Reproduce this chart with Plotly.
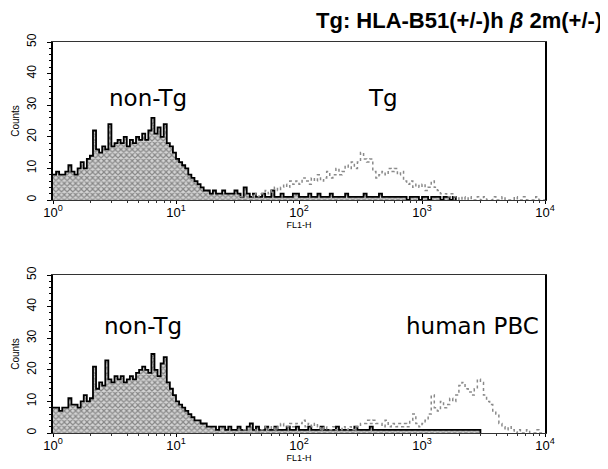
import plotly.graph_objects as go

# channel positions are given in log10(FL1-H), fixed step per series
step = 0.025

# non-Tg, top panel (starts at log10 = 0)
nontg_top = [8, 9, 8, 8, 9, 11, 9, 8, 10, 12, 10, 13, 14, 22, 16, 15, 17, 16, 24,
             17, 18, 19, 18, 20, 17, 19, 18, 20, 19, 21, 19, 22, 26, 21, 23, 20, 24,
             18, 17, 15, 13, 12, 11, 10, 8, 7, 6, 5, 4, 3, 3, 2,
             3, 2, 2, 3, 2, 2, 2, 3, 2, 1, 4, 2, 1, 2, 1, 1, 2, 1, 1, 3, 1, 1, 2, 1,
             1, 1, 2, 2, 1, 1, 1, 2, 1, 1, 2, 1, 1, 1, 2, 1, 1, 1, 1, 2, 1, 1, 1, 1,
             1, 2, 1, 1, 1, 1, 2, 1, 1, 1, 1, 1, 1, 1, 1, 0, 1, 1, 1, 0, 1, 1, 0, 1,
             1, 1, 0, 1, 1, 0, 1, 0]

# non-Tg, bottom panel (starts at log10 = 0)
nontg_bot = [8, 8, 7, 8, 8, 11, 9, 9, 8, 10, 12, 10, 11, 21, 14, 16, 15, 23,
             17, 16, 18, 17, 18, 16, 17, 18, 17, 19, 20, 21, 20, 19, 25, 20, 18, 22, 24,
             16, 14, 12, 10, 9, 8, 7, 6, 5, 4, 4, 3, 3, 2, 2,
             2, 1, 2, 2, 1, 2, 1, 1, 2, 1, 1, 2, 3, 1, 2, 1, 1, 2, 1, 1, 2, 1, 1, 1,
             2, 1, 1, 2, 1, 1, 1, 2, 1, 1, 1, 2, 1, 1, 1, 1, 2, 1, 1, 1, 1, 1, 2, 1,
             1, 1, 1, 2, 1, 1, 1, 1, 1, 1, 1, 1, 1, 1, 1, 1, 1, 1, 1, 1, 1, 1, 1, 1,
             1, 1, 1, 1, 1, 1, 1, 1, 1, 1, 1, 1, 1, 1, 1, 0]

# Tg (top) and human PBC (bottom), start at log10 = 1.5
tg_start = 1.5
tg_top = [0, 1, 0, 1, 1, 2, 1, 2, 2, 3, 2, 3, 4, 3, 4, 5, 4, 6, 5, 6,
          5, 7, 6, 5, 7, 6, 8, 6, 7, 9, 7, 8, 10, 8, 9, 11, 10, 12, 10, 12,
          15, 13, 12, 13, 9, 7, 8, 9, 8, 10, 9, 10, 8, 9, 6, 5, 6, 4, 5, 4,
          5, 3, 4, 6, 4, 3, 2, 2, 1, 2, 1, 1, 0, 1, 0, 1, 0, 0, 1, 0,
          1, 0, 0, 1, 0, 0, 1, 0, 0, 0, 1, 0, 0, 1, 0, 0, 0, 1, 0, 0, 0]
pbc_bot = [1, 0, 1, 0, 1, 1, 0, 1, 1, 2, 1, 2, 1, 2, 3, 2, 2, 3, 2, 3,
           3, 4, 2, 3, 2, 3, 2, 1, 2, 1, 1, 2, 1, 1, 2, 1, 2, 1, 2, 2,
           3, 3, 4, 3, 4, 3, 3, 2, 4, 2, 3, 2, 3, 2, 3, 2, 4, 6, 3, 2,
           3, 4, 6, 12, 8, 7, 10, 8, 9, 11, 10, 12, 15, 16, 14, 13, 12, 14, 17, 16,
           12, 10, 9, 7, 6, 3, 2, 1, 2, 1, 0, 1, 0, 0, 1, 0, 0, 1, 0, 0, 0]

xtick_vals = [1, 10, 100, 1000, 10000]
xtick_text = ["10<sup>0</sup>", "10<sup>1</sup>", "10<sup>2</sup>", "10<sup>3</sup>", "10<sup>4</sup>"]
ytick_vals = [0, 10, 20, 30, 40, 50]

# the page body has an 8px margin, so the figure is 8px smaller each way
W, H, OFF = 600, 461, 8


def px(x):
    return (x - OFF) / W


def py(y):
    return 1 - (y - OFF) / H


def steps(values, start):
    xs = [10 ** (start + i * step) for i in range(len(values))]
    return xs, values


fig = go.Figure()

for vals, start, xa, ya in [(nontg_top, 0, "x", "y"), (nontg_bot, 0, "x2", "y2")]:
    xs, ys = steps(vals, start)
    fig.add_trace(go.Scatter(
        x=xs, y=ys, xaxis=xa, yaxis=ya, mode="lines", line_shape="hv",
        line=dict(color="black", width=1.8), fill="tozeroy",
        fillcolor="rgba(0,0,0,0)",
        fillpattern=dict(shape="x", fgcolor="#3a3a3a", bgcolor="#d4d4d4",
                         size=4, solidity=0.5),
        showlegend=False))

for vals, xa, ya in [(tg_top, "x", "y"), (pbc_bot, "x2", "y2")]:
    xs, ys = steps(vals, tg_start)
    fig.add_trace(go.Scatter(
        x=xs, y=ys, xaxis=xa, yaxis=ya, mode="lines", line_shape="hv",
        line=dict(color="#8a8a8a", width=1.5, dash="dot"),
        showlegend=False))

xdom = [px(53), px(545)]
top_dom = [py(200), py(42)]
bot_dom = [py(433), py(275)]

xax = dict(type="log", range=[0, 4], domain=xdom, tickmode="array",
           tickvals=xtick_vals, ticktext=xtick_text, ticks="outside", ticklen=3,
           tickcolor="black", showline=True, linecolor="#333", linewidth=1,
           mirror=True, showgrid=False, zeroline=False, automargin=False,
           ticklabelstandoff=-3,
           tickfont=dict(family="Liberation Sans", size=13, color="black"),
           minor=dict(ticks="outside", ticklen=2, dtick="D1", tickcolor="#333"),
           title=dict(text="FL1-H", font=dict(family="Liberation Sans", size=9,
                                              color="black"), standoff=0))
yax = dict(range=[0, 50], tickvals=ytick_vals, ticks="outside", ticklen=4,
           tickcolor="black", tickangle=-90, showline=True, linecolor="black",
           linewidth=1.5, mirror=True, showgrid=False, zeroline=False,
           automargin=False, ticklabelstandoff=6,
           tickfont=dict(family="Liberation Sans", size=12, color="black"),
           minor=dict(ticks="outside", ticklen=2, dtick=2, tickcolor="black"),
           title=dict(text="Counts", font=dict(family="Liberation Sans", size=10,
                                               color="black"), standoff=4))

fig.update_layout(
    width=W, height=H,
    margin=dict(l=0, r=0, t=0, b=0, autoexpand=False),
    paper_bgcolor="white", plot_bgcolor="white",
    xaxis=dict(xax, anchor="y"),
    yaxis=dict(yax, domain=top_dom, anchor="x"),
    xaxis2=dict(xax, anchor="y2"),
    yaxis2=dict(yax, domain=bot_dom, anchor="x2"),
)

lab = dict(family="DejaVu Sans", size=23, color="black")
fig.add_annotation(text="<b>Tg: HLA-B51(+/-)h <i>β</i> 2m(+/-)</b>", xref="paper",
                   yref="paper", x=px(603), y=py(21), xanchor="right",
                   yanchor="middle", showarrow=False, borderpad=0,
                   font=dict(family="Liberation Sans", size=22, color="black"))
fig.add_annotation(text="non-Tg", xref="paper", yref="paper", x=px(148),
                   y=py(98), xanchor="center", yanchor="middle",
                   showarrow=False, font=lab)
fig.add_annotation(text="Tg", xref="paper", yref="paper", x=px(383),
                   y=py(98), xanchor="center", yanchor="middle",
                   showarrow=False, font=lab)
fig.add_annotation(text="non-Tg", xref="paper", yref="paper", x=px(143),
                   y=py(326), xanchor="center", yanchor="middle",
                   showarrow=False, font=lab)
fig.add_annotation(text="human PBC", xref="paper", yref="paper", x=px(541),
                   y=py(326), xanchor="right", yanchor="middle",
                   showarrow=False, font=lab)

fig.write_html("out.html")
